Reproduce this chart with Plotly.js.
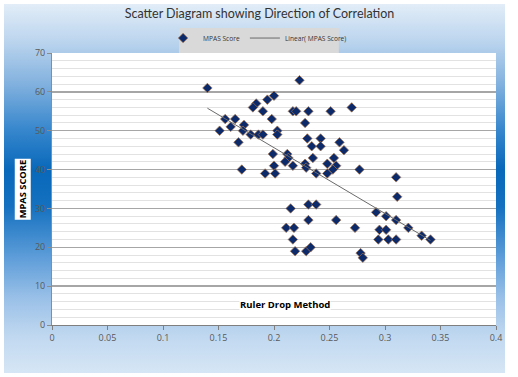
<!DOCTYPE html>
<html>
<head>
<meta charset="utf-8">
<script src="https://cdn.plot.ly/plotly-3.0.1.min.js"></script>
<style>
  html, body { margin: 0; padding: 0; background: #ffffff; }
  #wrap { position: relative; width: 518px; height: 377px; overflow: hidden; background: #ffffff; }
  #bg { position: absolute; left: 4px; top: 4px; width: 501px; height: 369px;
        background: linear-gradient(to bottom, #e2edf8 0%, #bcd5ee 10%, #80b0de 22%, #3787cd 34%, #0868ba 45%, #1571c0 55%, #5a9bd8 68%, #9bc1e8 80%, #c0d8f0 90%, #d6e6f5 100%); }
  #plot { position: absolute; left: 0; top: 0; width: 518px; height: 377px; }
</style>
</head>
<body>
<div id="wrap"><div id="bg"></div><div id="plot"></div></div>
<script>
// Ruler drop (x) vs MPAS score (y)
const rulerDrop = [
  0.140, 0.156, 0.165, 0.151, 0.161, 0.173, 0.172, 0.179, 0.186, 0.190,
  0.168, 0.184, 0.181, 0.190, 0.194, 0.200, 0.198, 0.203, 0.203, 0.223,
  0.217, 0.220, 0.231, 0.251, 0.270, 0.228, 0.230, 0.242, 0.234, 0.242,
  0.259, 0.263, 0.254, 0.235, 0.212, 0.213, 0.199, 0.210, 0.217, 0.200,
  0.228, 0.229, 0.238, 0.248, 0.256, 0.253, 0.248, 0.171, 0.192, 0.201,
  0.277, 0.310, 0.311, 0.292, 0.301, 0.310, 0.321, 0.333, 0.341, 0.273,
  0.295, 0.301, 0.294, 0.303, 0.310, 0.278, 0.280, 0.215, 0.231, 0.238,
  0.231, 0.256, 0.211, 0.218, 0.217, 0.219, 0.229, 0.233
];
const mpasScore = [
  61, 53, 53, 50, 51, 51.5, 50, 49, 49, 49,
  47, 57, 56, 55, 58, 59, 53, 50, 49, 63,
  55, 55, 55, 55, 56, 52, 48, 48, 46, 46,
  47, 45, 43, 43, 44, 43, 44, 42, 41, 41,
  41.5, 40.5, 39, 41.5, 41, 40, 39, 40, 39, 39,
  40, 38, 33, 29, 28, 27, 25, 23, 22, 25,
  24.5, 24.5, 22, 22, 22, 18.5, 17.3, 30, 31, 31,
  27, 27, 25, 25, 22, 19, 19, 20
];
const xTickVals = [0, 0.05, 0.1, 0.15, 0.2, 0.25, 0.3, 0.35, 0.4];
const xTickText = ["0", "0.05", "0.1", "0.15", "0.2", "0.25", "0.3", "0.35", "0.4"];
const yTickVals = [0, 10, 20, 30, 40, 50, 60, 70];

// least-squares linear trendline computed from the data
const n = rulerDrop.length;
let sx = 0, sy = 0, sxx = 0, sxy = 0;
for (let i = 0; i < n; i++) {
  sx += rulerDrop[i]; sy += mpasScore[i];
  sxx += rulerDrop[i] * rulerDrop[i]; sxy += rulerDrop[i] * mpasScore[i];
}
const slope = (n * sxy - sx * sy) / (n * sxx - sx * sx);
const icpt = (sy - slope * sx) / n;
const xMin = Math.min(...rulerDrop), xMax = Math.max(...rulerDrop);
const trendX = [xMin, xMax];
const trendY = trendX.map(v => icpt + slope * v);

const font = "Open Sans, DejaVu Sans, sans-serif";

const traces = [
  {
    type: "scatter", mode: "markers", name: "MPAS Score",
    x: rulerDrop, y: mpasScore,
    marker: { symbol: "diamond", size: 7.3, color: "#0c2a6a", line: { color: "#a8764e", width: 0.7 } }
  },
  {
    type: "scatter", mode: "lines", name: "Linear( MPAS Score)",
    x: trendX, y: trendY,
    line: { color: "#6a6a6a", width: 1 }
  }
];

const layout = {
  width: 518, height: 377,
  margin: { l: 52, r: 22, t: 53, b: 52, pad: 0 },
  paper_bgcolor: "rgba(0,0,0,0)",
  plot_bgcolor: "#ffffff",
  title: {
    text: "Scatter Diagram showing Direction of Correlation",
    font: { family: "Lato, Open Sans, sans-serif", size: 12.5, color: "#333333" },
    x: 0.501, xanchor: "center", y: 0.963, yanchor: "middle"
  },
  showlegend: true,
  legend: {
    orientation: "h", x: 0.463, xanchor: "center", y: 1.055, yanchor: "middle",
    bgcolor: "rgba(0,0,0,0)", borderwidth: 0,
    font: { family: font, size: 6.6, color: "#333333" },
    itemwidth: 30, traceorder: "normal"
  },
  xaxis: {
    range: [0, 0.4], tickvals: xTickVals, ticktext: xTickText,
    showgrid: false, zeroline: false,
    showline: true, linecolor: "#7f7f7f", linewidth: 1,
    ticks: "outside", ticklen: 4, tickcolor: "#7f7f7f",
    tickfont: { family: font, size: 9, color: "#595959" },
    fixedrange: true
  },
  yaxis: {
    range: [0, 70], tickvals: yTickVals,
    showgrid: true, gridcolor: "#a6a6a6", gridwidth: 1.5,
    minor: { dtick: 2, showgrid: true, gridcolor: "#e2e2e2", gridwidth: 1, ticks: "" },
    zeroline: false,
    showline: true, linecolor: "#8c8c8c", linewidth: 1,
    ticks: "outside", ticklen: 4, tickcolor: "#8c8c8c",
    tickfont: { family: font, size: 9, color: "#595959" },
    fixedrange: true
  },
  shapes: [
    { type: "rect", xref: "paper", yref: "paper", x0: 0.286, x1: 0.646, y0: 1.0, y1: 1.092,
      fillcolor: "#d9d9d9", line: { width: 0 }, layer: "above" }
  ],
  annotations: [
    { text: "<b>MPAS SCORE</b>", xref: "paper", yref: "paper", x: -0.067, y: 0.5,
      xanchor: "center", yanchor: "middle", textangle: -90, showarrow: false,
      bgcolor: "#ffffff", borderpad: 1,
      font: { family: font, size: 9.3, color: "#000000" } },
    { text: "<b>Ruler Drop Method</b>", xref: "paper", yref: "paper", x: 0.525, y: 0.074,
      xanchor: "center", yanchor: "middle", showarrow: false,
      bgcolor: "#ffffff", borderpad: 0,
      font: { family: font, size: 9.5, color: "#000000" } }
  ]
};

Plotly.newPlot("plot", traces, layout, { displayModeBar: false, staticPlot: true });
</script>
</body>
</html>
